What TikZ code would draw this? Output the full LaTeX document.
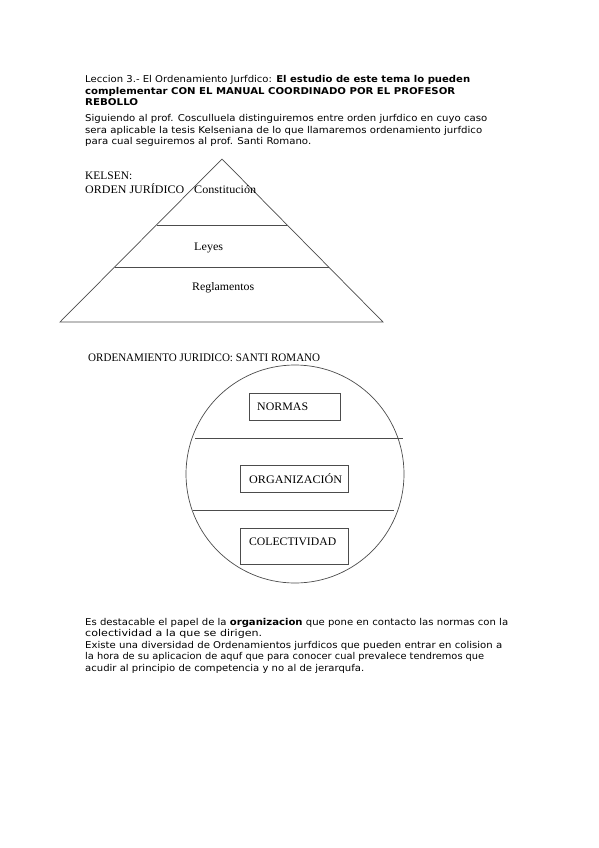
\documentclass[tikz,border=0pt]{standalone}
\usepackage{fontspec}
\setmainfont{DejaVu Sans}
\newfontfamily\timesf{Liberation Serif}
\usepackage{graphicx}
\newcommand\fitw[2]{\resizebox{#1pt}{\height}{#2}}
\tikzset{
  txt/.style={anchor=base west, inner sep=0pt, font=\fontsize{9.4}{11}\selectfont},
  ser/.style={anchor=base west, inner sep=0pt, font=\timesf\fontsize{11.5}{12}\selectfont},
  ln/.style={draw=black!70, line width=0.7pt},
}
\begin{document}
\begin{tikzpicture}[x=1pt,y=-1pt]
\useasboundingbox[fill=white] (0,0) rectangle (599,848);
% header text
\node[txt] (h1) at (85,83) {\fitw{385}{Leccion 3.- El Ordenamiento Jurfdico: \textbf{El estudio de este tema lo pueden}}};
\node[txt] (h2) at (85,94.5) {\fitw{370}{\textbf{complementar CON EL MANUAL COORDINADO POR EL PROFESOR}}};
\node[txt] (h3) at (85,106) {\fitw{53}{\textbf{REBOLLO}}};
\node[txt] (p1) at (85,122) {\fitw{402}{Siguiendo al prof. Cosculluela distinguiremos entre orden jurfdico en cuyo caso}};
\node[txt] (p2) at (85,133.5) {\fitw{397}{sera aplicable la tesis Kelseniana de lo que llamaremos ordenamiento jurfdico}};
\node[txt] (p3) at (85,145) {\fitw{226}{para cual seguiremos al prof. Santi Romano.}};
% pyramid
\coordinate (apex) at (222,159);
\coordinate (bl) at (60,322);
\coordinate (br) at (383,322);
\draw[ln] (bl) -- (apex) -- (br) -- cycle;
\coordinate (l1a) at (157,225); \coordinate (l1b) at (287,225);
\coordinate (l2a) at (115,267); \coordinate (l2b) at (329,267);
\draw[ln] (l1a) -- (l1b);
\draw[ln] (l2a) -- (l2b);
\node[ser] (kel) at (85,179) {\fitw{47}{KELSEN:}};
\node[ser] (oj) at (85,193) {\fitw{99}{ORDEN JURÍDICO}};
\node[ser] (cons) at (194,193) {\fitw{62}{Constitución}};
\node[ser] (ley) at (194,250) {\fitw{29}{Leyes}};
\node[ser] (reg) at (192,290) {\fitw{62}{Reglamentos}};
% Santi Romano
\node[ser] (sr) at (88,361.5) {\fitw{232}{ORDENAMIENTO JURIDICO: SANTI ROMANO}};
\coordinate (cc) at (295,474);
\draw[ln] (cc) circle[radius=109];
\coordinate (c1a) at (195,438); \coordinate (c1b) at (403,438);
\coordinate (c2a) at (193,510); \coordinate (c2b) at (394,510);
\draw[ln] (c1a) -- (c1b);
\draw[ln] (c2a) -- (c2b);
\draw[ln] (249,393) rectangle (340,420);
\draw[ln] (240,465) rectangle (348,492);
\draw[ln] (240,528) rectangle (348,564);
\node[ser] (nor) at (257,410.5) {\fitw{51}{NORMAS}};
\node[ser] (org) at (249,483) {\fitw{93}{ORGANIZACIÓN}};
\node[ser] (col) at (249,545.5) {\fitw{87}{COLECTIVIDAD}};
% bottom text
\node[txt] (b1) at (85,625) {\fitw{423}{Es destacable el papel de la \textbf{organizacion} que pone en contacto las normas con la}};
\node[txt] (b2) at (85,636.5) {\fitw{177}{colectividad a la que se dirigen.}};
\node[txt] (b3) at (85,648) {\fitw{417}{Existe una diversidad de Ordenamientos jurfdicos que pueden entrar en colision a}};
\node[txt] (b4) at (85,659.5) {\fitw{399}{la hora de su aplicacion de aquf que para conocer cual prevalece tendremos que}};
\node[txt] (b5) at (85,671) {\fitw{279}{acudir al principio de competencia y no al de jerarqufa.}};
\end{tikzpicture}
\end{document}
